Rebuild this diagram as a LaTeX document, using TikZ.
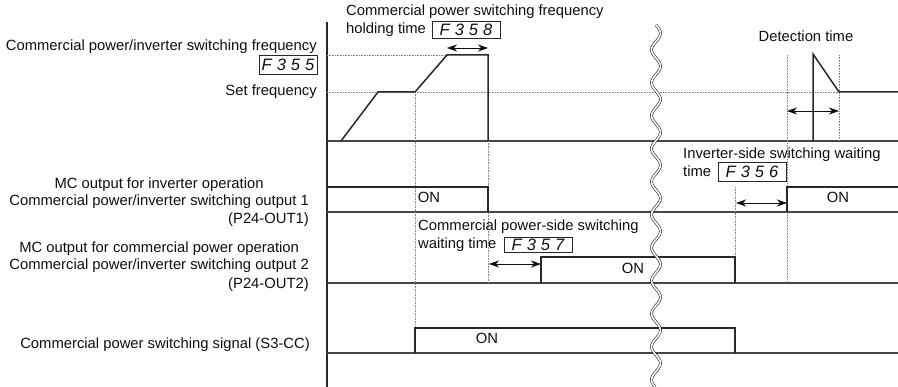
\documentclass[tikz,border=0pt]{standalone}
\usepackage{fontspec}
\setmainfont{Liberation Sans}
\usetikzlibrary{arrows.meta,positioning}
\definecolor{TcInk}{RGB}{15,15,15}
\definecolor{TcLine}{RGB}{40,40,40}
\definecolor{TcRail}{RGB}{70,70,70}
\definecolor{TcGuide}{RGB}{135,135,135}
\newcommand\tcseg[4]{#1\hspace{5pt}#2\hspace{5pt}#3\hspace{5pt}#4}
\tikzset{
  tc/label/.style={
    font=\fontsize{14.8}{17.5}\selectfont,
    text=TcInk,
    inner sep=0pt,
    text height=10.5pt,
    text depth=3pt
  },
  tc/fbox/.style={
    draw=TcLine,
    line width=1pt,
    font=\fontsize{16.5}{16.5}\selectfont\itshape,
    text=TcInk,
    inner sep=0pt,
    minimum width=68pt,
    minimum height=17pt
  },
  tc/wave/.style={line width=1.5pt, draw=TcLine, line join=miter},
  tc/rail/.style={line width=1.2pt, draw=TcRail},
  tc/axis/.style={line width=1.3pt, draw=TcLine},
  tc/guide/.style={line width=0.6pt, draw=TcGuide, dash pattern=on 0.8pt off 0.8pt},
  tc/arrow/.style={{Stealth[length=10pt,width=7pt,inset=3pt]}-{Stealth[length=10pt,width=7pt,inset=3pt]}, line width=0.9pt, draw=TcInk},
  tc/break/.style={line width=0.5pt, draw=black, double=white, double distance=1.7pt}
}

\begin{document}
\begin{tikzpicture}[x=1pt,y=-1pt]
  \useasboundingbox (0,0) rectangle (898,387);
  % axis and signal rails
  \coordinate (axtop) at (327,22);
  \coordinate (axbot) at (327,387);
  \draw[tc/axis] (axtop) -- (axbot);
  \foreach \y in {141,212,283,353}
    \draw[tc/rail] (327,\y) -- (898,\y);
  % dotted guides
  \draw[tc/guide] (327,55) -- (447,55);
  \draw[tc/guide] (327,92) -- (839,92);
  \draw[tc/guide] (415,92) -- (415,328);
  \draw[tc/guide] (488,141) -- (488,283);
  \draw[tc/guide] (735,187) -- (735,258);
  \draw[tc/guide] (787,55) -- (787,283);
  \draw[tc/guide] (839,55) -- (839,141);
  % frequency
  \draw[tc/wave] (341,141) -- (378,92) -- (415,92) -- (447,55) -- (488,55) -- (488,141);
  \draw[tc/wave] (813,141) -- (813,54) -- (839,92) -- (898,92);
  % outputs
  \draw[tc/wave] (327,187) -- (488,187) -- (488,212);
  \draw[tc/wave] (787,212) -- (787,187) -- (898,187);
  \draw[tc/wave] (541,283) -- (541,257) -- (735,257) -- (735,283);
  \draw[tc/wave] (415,353) -- (415,328) -- (735,328) -- (735,353);

  % left labels
  \node[tc/label,anchor=east] (swfreq) at (317,47) {Commercial power/inverter switching frequency};
  \node[tc/fbox,minimum width=58pt,minimum height=19pt] (f355) at (288,65) {\tcseg F355};
  \node[tc/label,anchor=east] (setfreq) at (317,92) {Set frequency};
  \node[tc/label,anchor=east] (mcinv2) at (309,202) {Commercial power/inverter switching output 1};
  \node[tc/label,above=3.5pt of mcinv2] (mcinv1) {MC output for inverter operation};
  \node[tc/label,anchor=east] (out1) at (309,220) {(P24-OUT1)};
  \node[tc/label,anchor=east] (mccom2) at (309,266) {Commercial power/inverter switching output 2};
  \node[tc/label,above=3.5pt of mccom2] (mccom1) {MC output for commercial power operation};
  \node[tc/label,anchor=east] (out2) at (309,285) {(P24-OUT2)};
  \node[tc/label,anchor=east] (s3cc) at (310,345) {Commercial power switching signal (S3-CC)};

  % holding time
  \node[tc/label,anchor=west] (holdA) at (346,12) {Commercial power switching frequency};
  \node[tc/label,anchor=west] (holdB) at (346,30) {holding time};
  \node[tc/fbox] (f358) at (466,30) {\tcseg F358};
  \coordinate (holdL) at (447,48);
  \coordinate (holdR) at (488,48);
  \draw[tc/arrow] (holdL) -- (holdR);

  % detection time
  \node[tc/label] (detect) at (806,38) {Detection time};
  \coordinate (detL) at (787,111);
  \coordinate (detR) at (839,111);
  \draw[tc/arrow] (detL) -- (detR);

  % inverter-side waiting
  \node[tc/label,anchor=west] (invA) at (683,155) {Inverter-side switching waiting};
  \node[tc/label,anchor=west] (invB) at (683,173) {time};
  \node[tc/fbox,minimum height=19pt] (f356) at (752,172) {\tcseg F356};
  \coordinate (invL) at (736,203);
  \coordinate (invR) at (787,203);
  \draw[tc/arrow] (invL) -- (invR);

  % commercial-side waiting
  \node[tc/label,anchor=west] (comA) at (418,227) {Commercial power-side switching};
  \node[tc/label,anchor=west] (comB) at (418,245) {waiting time};
  \node[tc/fbox,minimum height=15pt] (f357) at (538,245) {\tcseg F357};
  \coordinate (comL) at (489,264);
  \coordinate (comR) at (541,264);
  \draw[tc/arrow] (comL) -- (comR);

  % ON marks
  \node[tc/label] (on1a) at (429,199) {ON};
  \node[tc/label] (on1b) at (838,199) {ON};
  \node[tc/label] (on2) at (633,270) {ON};
  \node[tc/label] (on3) at (487,340) {ON};

  % time break
  \draw[tc/break] plot[domain=25:387,samples=140,smooth] ({656+4.5*sin((\x-25)/33*360)},\x);
\end{tikzpicture}
\end{document}
